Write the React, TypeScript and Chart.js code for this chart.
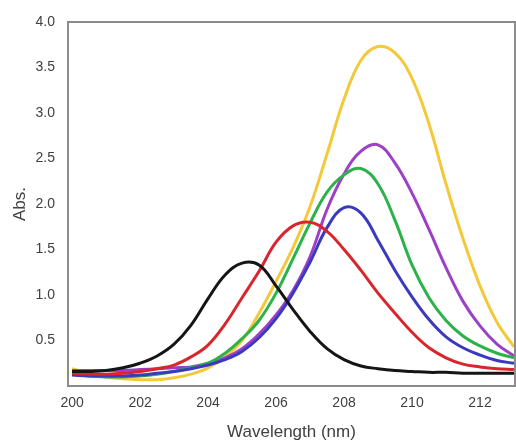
import React, { useEffect, useRef } from "react";
import { Chart, registerables } from "chart.js";

Chart.register(...registerables);

const wavelengths = [
  200, 200.5, 201, 201.5, 202, 202.5, 203, 203.5, 204, 204.5, 205, 205.5, 206, 206.5,
  207, 207.5, 208, 208.5, 209, 209.5, 210, 210.5, 211, 211.5, 212, 212.5, 213,
];

const blackSeries = [
  0.16, 0.16, 0.17, 0.2, 0.25, 0.33, 0.46, 0.67, 0.96, 1.22, 1.35, 1.33, 1.1, 0.84,
  0.6, 0.41, 0.29, 0.22, 0.19, 0.17, 0.16, 0.15, 0.15, 0.14, 0.14, 0.14, 0.14,
];
const redSeries = [
  0.14, 0.13, 0.13, 0.14, 0.16, 0.19, 0.23, 0.32, 0.45, 0.68, 0.97, 1.26, 1.58, 1.76,
  1.8, 1.7, 1.5, 1.27, 1.02, 0.8, 0.59, 0.42, 0.31, 0.24, 0.21, 0.19, 0.18,
];
const blueSeries = [
  0.12, 0.11, 0.11, 0.11, 0.12, 0.14, 0.16, 0.19, 0.23, 0.29, 0.38, 0.53, 0.74, 1.02,
  1.36, 1.74, 1.96, 1.9, 1.6, 1.27, 0.98, 0.73, 0.54, 0.42, 0.34, 0.28, 0.25,
];
const greenSeries = [
  0.13, 0.11, 0.1, 0.1, 0.11, 0.13, 0.16, 0.2, 0.25, 0.36, 0.52, 0.72, 1.02, 1.4,
  1.79, 2.13, 2.32, 2.39, 2.22, 1.82, 1.33, 0.97, 0.72, 0.55, 0.44, 0.36, 0.31,
];
const purpleSeries = [
  0.17, 0.17, 0.17, 0.17, 0.18, 0.19, 0.2, 0.21, 0.25, 0.31, 0.41, 0.57, 0.78, 1.05,
  1.42, 1.94, 2.33, 2.58, 2.65, 2.45, 2.12, 1.72, 1.3, 0.93, 0.66, 0.46, 0.33,
];
const yellowSeries = [
  0.19, 0.14, 0.1, 0.08, 0.07, 0.07, 0.09, 0.13, 0.2, 0.32, 0.5, 0.8, 1.15, 1.52,
  1.97, 2.55, 3.15, 3.58, 3.73, 3.66, 3.38, 2.88, 2.22, 1.62, 1.1, 0.7, 0.43,
];

const seriesList = [
  { values: blackSeries, color: "#151515" },
  { values: redSeries, color: "#d8262c" },
  { values: blueSeries, color: "#3a3abf" },
  { values: greenSeries, color: "#2bb24a" },
  { values: purpleSeries, color: "#9d40c8" },
  { values: yellowSeries, color: "#f3c93a" },
];

const xTicks = [200, 202, 204, 206, 208, 210, 212];
const yTicks = [0.5, 1.0, 1.5, 2.0, 2.5, 3.0, 3.5, 4.0];

const boxPlugin = {
  id: "boxPlugin",
  afterDraw(chart: any) {
    const { ctx, chartArea } = chart;
    ctx.save();
    ctx.strokeStyle = "#8c8c8c";
    ctx.lineWidth = 2;
    ctx.strokeRect(chartArea.left, chartArea.top, chartArea.right - chartArea.left, chartArea.bottom - chartArea.top);
    ctx.restore();
  },
};

export default function App() {
  const ref = useRef<HTMLCanvasElement | null>(null);

  useEffect(() => {
    document.body.style.margin = "0";
    if (!ref.current) return;
    const font = "'Liberation Sans', Arial, sans-serif";
    const chart = new Chart(ref.current, {
      type: "line",
      data: {
        datasets: seriesList.map((s) => ({
          data: wavelengths.map((w, i) => ({ x: w, y: s.values[i] })),
          borderColor: s.color,
          borderWidth: 3,
          pointRadius: 0,
          fill: false,
          tension: 0.4,
        })),
      },
      options: {
        animation: false,
        responsive: false,
        devicePixelRatio: 1,
        layout: { padding: { top: 22, right: 1, left: 0, bottom: 0 } },
        plugins: { legend: { display: false }, tooltip: { enabled: false } },
        scales: {
          x: {
            type: "linear",
            min: 199.88,
            max: 213.03,
            grid: { display: false, drawTicks: false },
            border: { display: false },
            afterBuildTicks: (scale: any) => {
              scale.ticks = xTicks.map((v) => ({ value: v }));
            },
            afterFit: (scale: any) => {
              scale.height = 55;
            },
            ticks: {
              padding: 9,
              color: "#404040",
              font: { family: font, size: 14 },
              callback: (v: any) => String(v),
            },
            title: {
              display: true,
              text: "Wavelength (nm)",
              color: "#404040",
              font: { family: font, size: 17 },
              padding: { top: 0, bottom: -2 },
            },
          },
          y: {
            type: "linear",
            min: 0,
            max: 4,
            grid: { display: false, drawTicks: false },
            border: { display: false },
            afterBuildTicks: (scale: any) => {
              scale.ticks = yTicks.map((v) => ({ value: v }));
            },
            afterFit: (scale: any) => {
              scale.width = 68;
            },
            ticks: {
              padding: 13,
              color: "#404040",
              font: { family: font, size: 14 },
              callback: (v: any) => Number(v).toFixed(1),
            },
            title: {
              display: true,
              text: "Abs.",
              color: "#404040",
              font: { family: font, size: 17 },
              padding: { top: 10, bottom: 0 },
            },
          },
        },
      },
      plugins: [boxPlugin],
    });
    return () => chart.destroy();
  }, []);

  return (
    <div style={{ width: 516, height: 441 }}>
      <canvas ref={ref} width={516} height={441} style={{ display: "block" }} />
    </div>
  );
}
